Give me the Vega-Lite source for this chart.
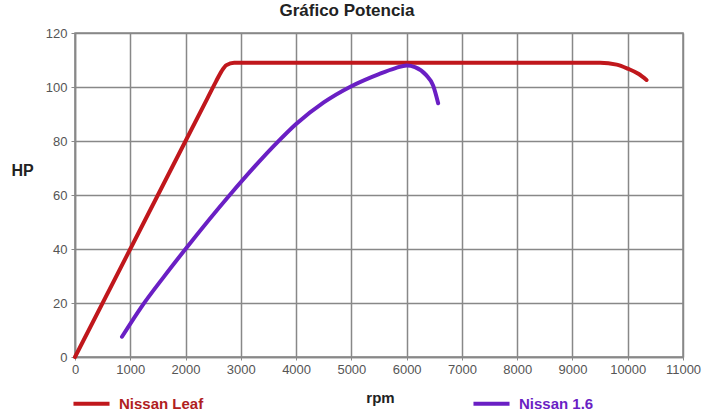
{
  "$schema": "https://vega.github.io/schema/vega-lite/v6.json",
  "width": 608,
  "height": 324,
  "autosize": {"type": "none"},
  "padding": {"left": 75, "top": 33, "right": 24, "bottom": 56},
  "background": "white",
  "title": {
    "text": "Gráfico Potencia",
    "font": "Liberation Sans",
    "fontSize": 17,
    "fontWeight": "bold",
    "color": "#222222",
    "anchor": "middle",
    "dx": -32,
    "offset": 7
  },
  "config": {
    "view": {"stroke": "#888888", "strokeWidth": 1.5},
    "font": "Liberation Sans"
  },
  "data": {
    "values": [
      {"rpm": 0, "hp": 0, "serie": "Nissan Leaf"},
      {"rpm": 1000, "hp": 40, "serie": "Nissan Leaf"},
      {"rpm": 2000, "hp": 80, "serie": "Nissan Leaf"},
      {"rpm": 2400, "hp": 96, "serie": "Nissan Leaf"},
      {"rpm": 2550, "hp": 102, "serie": "Nissan Leaf"},
      {"rpm": 2650, "hp": 105.8, "serie": "Nissan Leaf"},
      {"rpm": 2740, "hp": 108.1, "serie": "Nissan Leaf"},
      {"rpm": 2880, "hp": 109, "serie": "Nissan Leaf"},
      {"rpm": 5000, "hp": 109, "serie": "Nissan Leaf"},
      {"rpm": 9500, "hp": 109, "serie": "Nissan Leaf"},
      {"rpm": 9800, "hp": 108.3, "serie": "Nissan Leaf"},
      {"rpm": 10000, "hp": 106.8, "serie": "Nissan Leaf"},
      {"rpm": 10200, "hp": 104.8, "serie": "Nissan Leaf"},
      {"rpm": 10340, "hp": 102.6, "serie": "Nissan Leaf"},
      {"rpm": 850, "hp": 7.5, "serie": "Nissan 1.6"},
      {"rpm": 1200, "hp": 18.5, "serie": "Nissan 1.6"},
      {"rpm": 1600, "hp": 29.5, "serie": "Nissan 1.6"},
      {"rpm": 2000, "hp": 40, "serie": "Nissan 1.6"},
      {"rpm": 2800, "hp": 60, "serie": "Nissan 1.6"},
      {"rpm": 3660, "hp": 79.5, "serie": "Nissan 1.6"},
      {"rpm": 4000, "hp": 86.3, "serie": "Nissan 1.6"},
      {"rpm": 4500, "hp": 94.3, "serie": "Nissan 1.6"},
      {"rpm": 5000, "hp": 100.3, "serie": "Nissan 1.6"},
      {"rpm": 5500, "hp": 104.8, "serie": "Nissan 1.6"},
      {"rpm": 5800, "hp": 107, "serie": "Nissan 1.6"},
      {"rpm": 6000, "hp": 108, "serie": "Nissan 1.6"},
      {"rpm": 6150, "hp": 107.4, "serie": "Nissan 1.6"},
      {"rpm": 6350, "hp": 104.5, "serie": "Nissan 1.6"},
      {"rpm": 6480, "hp": 100.5, "serie": "Nissan 1.6"},
      {"rpm": 6570, "hp": 94, "serie": "Nissan 1.6"}
    ]
  },
  "mark": {"type": "line", "interpolate": "monotone", "strokeWidth": 4, "strokeCap": "round"},
  "encoding": {
    "x": {
      "field": "rpm",
      "type": "quantitative",
      "scale": {"domain": [0, 11000], "nice": false},
      "axis": {
        "values": [0,1000,2000,3000,4000,5000,6000,7000,8000,9000,10000,11000],
        "format": "d",
        "title": "rpm",
        "titleFont": "Liberation Sans",
        "titleFontSize": 15,
        "titleFontWeight": "bold",
        "titleColor": "#222222",
        "titleX": 305,
        "titleY": 40,
        "titleBaseline": "middle",
        "labelFont": "Liberation Sans",
        "labelFontSize": 13,
        "labelColor": "#555555",
        "labelPadding": 3,
        "labelFlush": false,
        "labelOverlap": false,
        "grid": true,
        "gridColor": "#888888",
        "gridWidth": 1.5,
        "domainColor": "#888888",
        "domainWidth": 1.5,
        "tickColor": "#888888",
        "tickSize": 3
      }
    },
    "y": {
      "field": "hp",
      "type": "quantitative",
      "scale": {"domain": [0, 120], "nice": false},
      "axis": {
        "values": [0,20,40,60,80,100,120],
        "title": "HP",
        "titleAngle": 0,
        "titleFont": "Liberation Sans",
        "titleFontSize": 16,
        "titleFontWeight": "bold",
        "titleColor": "#222222",
        "titleX": -53,
        "titleY": 137,
        "titleAlign": "center",
        "titleBaseline": "middle",
        "labelFont": "Liberation Sans",
        "labelFontSize": 13,
        "labelColor": "#555555",
        "labelPadding": 4,
        "grid": true,
        "gridColor": "#888888",
        "gridWidth": 1.5,
        "domainColor": "#888888",
        "domainWidth": 1.5,
        "tickColor": "#888888",
        "tickSize": 4
      }
    },
    "color": {
      "field": "serie",
      "type": "nominal",
      "scale": {"domain": ["Nissan Leaf", "Nissan 1.6"], "range": ["#c0171c", "#6a1fc4"]},
      "legend": {
        "title": null,
        "orient": "none",
        "legendX": -4,
        "legendY": 350,
        "direction": "horizontal",
        "columns": 2,
        "columnPadding": 261,
        "symbolType": "stroke",
        "symbolSize": 1300,
        "symbolStrokeWidth": 4,
        "labelFont": "Liberation Sans",
        "labelFontSize": 15,
        "labelFontWeight": "bold",
        "labelColor": {"expr": "datum.value == 'Nissan Leaf' ? '#b0201e' : '#6a1fc4'"},
        "labelOffset": 7
      }
    }
  }
}
